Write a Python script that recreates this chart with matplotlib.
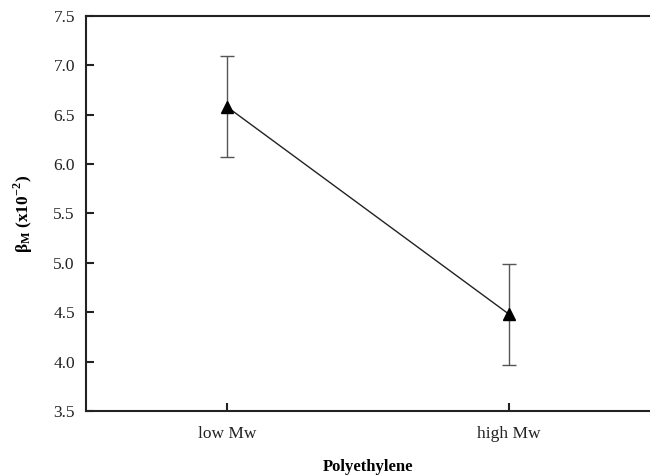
import numpy as np
import matplotlib.pyplot as plt

# data
categories = ['low Mw', 'high Mw']
beta_m = [6.58, 4.48]
err = [0.51, 0.51]

plt.rcParams['font.family'] = ['Liberation Serif', 'DejaVu Serif']
plt.rcParams['mathtext.fontset'] = 'custom'
plt.rcParams['mathtext.rm'] = 'Liberation Serif'
plt.rcParams['mathtext.bf'] = 'Liberation Serif:bold'

fig = plt.figure(figsize=(6.5, 4.76), dpi=100)
ax = fig.add_axes([0.1323, 0.1366, 0.8677, 0.8298])

x = np.arange(len(categories))
ax.errorbar(x, beta_m, yerr=err, fmt='none', ecolor='#555555', elinewidth=1.0,
            capsize=5, capthick=1.0)
ax.plot(x, beta_m, color='#222222', linewidth=1.0, marker='^', markersize=8,
        markerfacecolor='black', markeredgecolor='black')

ax.set_xlim(-0.5, 1.5)
ax.set_ylim(3.5, 7.5)
ax.set_yticks(np.arange(3.5, 7.51, 0.5))
ax.set_yticklabels(['%.1f' % v for v in np.arange(3.5, 7.51, 0.5)])
ax.set_xticks(x)
ax.set_xticklabels(categories)

ax.spines['right'].set_visible(False)
for s in ['left', 'top', 'bottom']:
    ax.spines[s].set_linewidth(1.5)
    ax.spines[s].set_color('#222222')

ax.tick_params(axis='both', direction='in', length=6, width=1.5, colors='#222222',
               labelsize=12.5, labelcolor='#222222')
ax.tick_params(axis='y', pad=8)
ax.tick_params(axis='x', pad=11)

ax.set_xlabel('Polyethylene', fontsize=12, fontweight='bold', labelpad=12)
ax.set_ylabel(r'$\mathbf{\beta_{M}}$ (x10$^{\mathbf{-2}}$)', fontsize=12.5, fontweight='bold',
              labelpad=13)

fig.savefig('out.png', dpi=100)
